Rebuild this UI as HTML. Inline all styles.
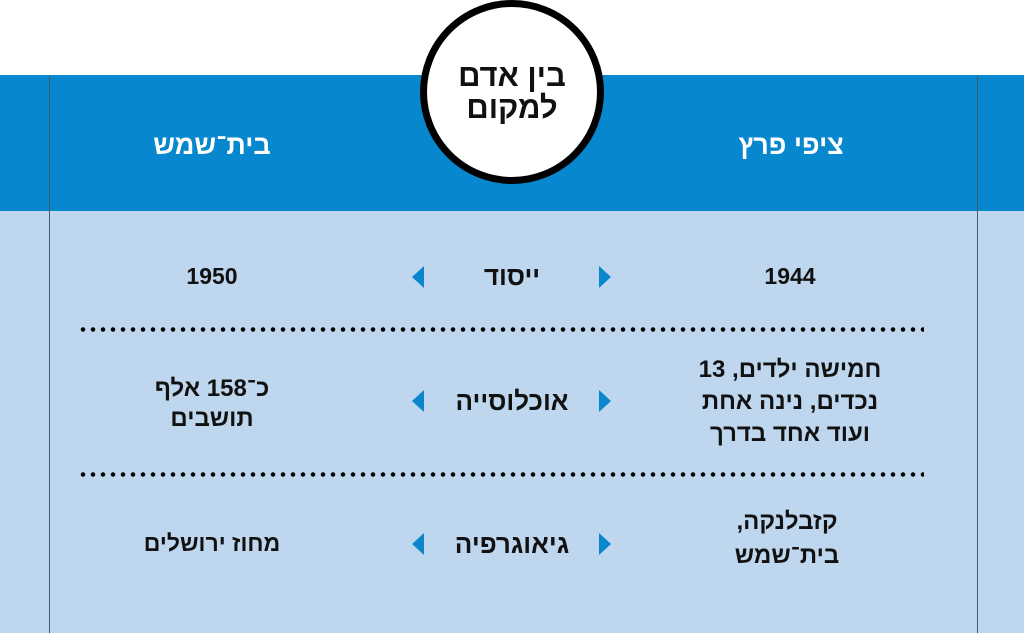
<!DOCTYPE html>
<html><head><meta charset="utf-8"><style>
body{margin:0;width:1024px;height:633px;position:relative;overflow:hidden;background:#fff;font-family:"Liberation Sans","DejaVu Sans",sans-serif;}
.a{position:absolute;}
.t{position:absolute;direction:rtl;text-align:center;font-weight:bold;color:#111;transform:translateX(-50%);white-space:nowrap;}
.dots{position:absolute;left:78px;width:846px;height:5px;background:radial-gradient(circle,#000 2px,transparent 2.5px) 0 0/10px 5px repeat-x;}
.tl{position:absolute;width:0;height:0;border-top:11px solid transparent;border-bottom:11px solid transparent;border-right:12px solid #0a86cc;}
.tr{position:absolute;width:0;height:0;border-top:11px solid transparent;border-bottom:11px solid transparent;border-left:12px solid #0a86cc;}
</style></head><body>
<div class="a" style="left:0;top:75px;width:1024px;height:136px;background:#0787cd"></div>
<div class="a" style="left:0;top:211px;width:1024px;height:422px;background:#bed7ef"></div>
<div class="a" style="left:49px;top:75px;width:1px;height:558px;background:#3d5a72"></div>
<div class="a" style="left:977px;top:75px;width:1px;height:558px;background:#3d5a72"></div>
<div class="a" style="left:420px;top:0;width:170px;height:170px;border:7px solid #000;border-radius:50%;background:#fff"></div>
<div class="t" style="left:512px;top:60px;font-size:31px;line-height:32px;">בין אדם<br>למקום</div>
<div class="t" style="left:791px;top:130px;font-size:27px;color:#fff">ציפי פרץ</div>
<div class="t" style="left:212px;top:130px;font-size:27px;color:#fff">בית־שמש</div>

<div class="t" style="left:790px;top:263px;font-size:23px">1944</div>
<div class="t" style="left:512px;top:261px;font-size:26px">ייסוד</div>
<div class="t" style="left:212px;top:263px;font-size:23px">1950</div>
<div class="tl" style="left:412px;top:266px"></div><div class="tr" style="left:599px;top:266px"></div>
<div class="dots" style="top:327px"></div>

<div class="t" style="left:790px;top:354px;font-size:24px;line-height:32px">חמישה ילדים, 13<br>נכדים, נינה אחת<br>ועוד אחד בדרך</div>
<div class="t" style="left:512px;top:386px;font-size:26px">אוכלוסייה</div>
<div class="t" style="left:212px;top:374px;font-size:24px;line-height:30px">כ־158 אלף<br>תושבים</div>
<div class="tl" style="left:412px;top:390px"></div><div class="tr" style="left:599px;top:390px"></div>
<div class="dots" style="top:472px"></div>

<div class="t" style="left:787px;top:505px;font-size:24px;line-height:34px">קזבלנקה,<br>בית־שמש</div>
<div class="t" style="left:512px;top:529px;font-size:26px">גיאוגרפיה</div>
<div class="t" style="left:212px;top:530px;font-size:23px">מחוז ירושלים</div>
<div class="tl" style="left:412px;top:533px"></div><div class="tr" style="left:599px;top:533px"></div>
</body></html>
